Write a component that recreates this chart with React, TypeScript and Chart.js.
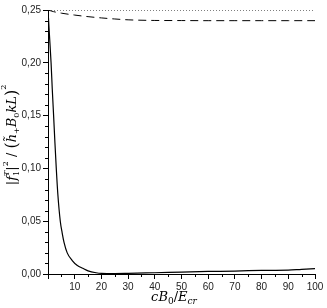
import React, { useEffect, useRef } from "react";
import { Chart, registerables } from "chart.js";

Chart.register(...registerables);

// Solid curve
const solidX = [0, 0.5, 1.15, 1.6, 2.1, 2.6, 3.1, 3.7, 4.6, 5.3, 6.0, 7.2, 9.0, 11, 13, 15, 18, 20, 25, 30, 40, 50, 60, 70, 75, 80, 90, 95, 100];
const solidY = [0.25, 0.228, 0.2, 0.175, 0.15, 0.124, 0.1, 0.075, 0.05, 0.039, 0.03, 0.02, 0.013, 0.008, 0.0054, 0.003, 0.0012, 0.0006, 0.0004, 0.0006, 0.0012, 0.0018, 0.0024, 0.0028, 0.0032, 0.0034, 0.0036, 0.0044, 0.005];

// Dashed curve
const dashX = [0, 2, 5, 10, 15, 20, 25, 30, 40, 50, 60, 70, 80, 90, 100];
const dashY = [0.25, 0.2485, 0.247, 0.2452, 0.2437, 0.2425, 0.2415, 0.2407, 0.2401, 0.24, 0.2399, 0.2399, 0.2399, 0.2399, 0.2399];

// Dotted reference line
const dotX = [0, 100];
const dotY = [0.25, 0.25];

const xTicks = [10, 20, 30, 40, 50, 60, 70, 80, 90, 100];
const yTicks = [0, 0.05, 0.1, 0.15, 0.2, 0.25];
const xMinor = [5, 15, 25, 35, 45, 55, 65, 75, 85, 95];
const yMinor = [0.01, 0.02, 0.03, 0.04, 0.06, 0.07, 0.08, 0.09, 0.11, 0.12, 0.13, 0.14, 0.16, 0.17, 0.18, 0.19, 0.21, 0.22, 0.23, 0.24];

type Seg = { t: string; size: number; dy: number; italic?: boolean; noAdv?: boolean };

const yTitle: Seg[] = [
  { t: "|", size: 13, dy: 0 },
  { t: "f", size: 13, dy: 0, italic: true },
  { t: "1", size: 8, dy: 3, noAdv: true },
  { t: "T", size: 8, dy: -7, italic: true },
  { t: "|", size: 13, dy: 0 },
  { t: "2", size: 8, dy: -8 },
  { t: " / ", size: 13, dy: 0 },
  { t: "(", size: 16, dy: 1 },
  { t: "h\u0303", size: 13, dy: 0, italic: true },
  { t: "+", size: 8, dy: 3 },
  { t: "B", size: 13, dy: 0, italic: true },
  { t: "0", size: 8, dy: 3 },
  { t: "kL", size: 13, dy: 0, italic: true },
  { t: ")", size: 16, dy: 1 },
  { t: "2", size: 8, dy: -10 },
];

const xTitle: Seg[] = [
  { t: "cB", size: 13, dy: 0, italic: true },
  { t: "0", size: 9, dy: 3 },
  { t: "/", size: 13, dy: 0 },
  { t: "E", size: 13, dy: 0, italic: true },
  { t: "cr", size: 9, dy: 3, italic: true },
];

const SERIF = '"DejaVu Serif", "Liberation Serif", serif';

function fontOf(s: Seg) {
  return `${s.italic ? "italic " : ""}${s.size}px ${SERIF}`;
}

function drawSegs(ctx: CanvasRenderingContext2D, segs: Seg[]) {
  let w = 0;
  let pend = 0;
  for (const s of segs) {
    ctx.font = fontOf(s);
    const m = ctx.measureText(s.t).width;
    if (s.noAdv) pend = Math.max(pend, m);
    else {
      w += Math.max(m, pend);
      pend = 0;
    }
  }
  let x = -w / 2;
  pend = 0;
  ctx.textBaseline = "alphabetic";
  ctx.textAlign = "left";
  for (const s of segs) {
    ctx.font = fontOf(s);
    const m = ctx.measureText(s.t).width;
    ctx.fillText(s.t, x, s.dy);
    if (s.noAdv) pend = Math.max(pend, m);
    else {
      x += Math.max(m, pend);
      pend = 0;
    }
  }
}

const extrasPlugin = {
  id: "extras",
  afterDraw(chart: any) {
    const ctx: CanvasRenderingContext2D = chart.ctx;
    const xs = chart.scales.x;
    const ys = chart.scales.y;
    const area = chart.chartArea;
    ctx.save();
    ctx.strokeStyle = "#000";
    ctx.lineWidth = 1;
    ctx.beginPath();
    for (const v of xMinor) {
      const px = Math.round(xs.getPixelForValue(v)) + 0.5;
      ctx.moveTo(px, area.bottom);
      ctx.lineTo(px, area.bottom + 3);
    }
    for (const v of yMinor) {
      const py = Math.round(ys.getPixelForValue(v)) + 0.5;
      ctx.moveTo(area.left, py);
      ctx.lineTo(area.left - 3, py);
    }
    ctx.stroke();

    ctx.fillStyle = "#000";
    // x title
    ctx.save();
    ctx.translate(174, 301);
    drawSegs(ctx, xTitle);
    ctx.restore();
    // y title
    ctx.save();
    ctx.translate(16, 135);
    ctx.rotate(-Math.PI / 2);
    drawSegs(ctx, yTitle);
    ctx.restore();
    ctx.restore();
  },
};

function pts(xs: number[], ys: number[]) {
  return xs.map((x, i) => ({ x, y: ys[i] }));
}

export default function App() {
  const ref = useRef<HTMLCanvasElement | null>(null);
  useEffect(() => {
    document.body.style.margin = "0";
    const canvas = ref.current;
    if (!canvas) return;
    const tickFont = { family: '"Liberation Sans", Arial, sans-serif', size: 10 };
    const chart = new Chart(canvas, {
      type: "line",
      data: {
        datasets: [
          {
            data: pts(solidX, solidY),
            borderColor: "#000",
            borderWidth: 1.2,
            pointRadius: 0,
            cubicInterpolationMode: "monotone",
            fill: false,
          },
          {
            data: pts(dashX, dashY),
            borderColor: "#000",
            borderWidth: 1,
            borderDash: [8, 5],
            pointRadius: 0,
            cubicInterpolationMode: "monotone",
            fill: false,
          },
          {
            data: pts(dotX, dotY),
            borderColor: "#000",
            borderWidth: 1,
            borderDash: [1, 2],
            pointRadius: 0,
            fill: false,
          },
        ],
      },
      options: {
        animation: false,
        responsive: false,
        maintainAspectRatio: false,
        layout: { padding: { top: 10, right: 12, left: 0, bottom: 0 } },
        plugins: { legend: { display: false }, tooltip: { enabled: false } },
        scales: {
          x: {
            type: "linear",
            min: 0,
            max: 100,
            afterBuildTicks: (s: any) => {
              s.ticks = [0, ...xTicks].map((v) => ({ value: v }));
            },
            afterFit: (s: any) => {
              s.height = 34;
            },
            ticks: {
              color: "#222",
              font: tickFont,
              padding: 2,
              maxRotation: 0,
              autoSkip: false,
              callback: (v: any) => (v === 0 ? "" : String(v)),
            },
            grid: { drawOnChartArea: false, drawTicks: true, tickLength: 5, color: "#000" },
            border: { display: true, color: "#000", width: 1 },
          },
          y: {
            type: "linear",
            min: 0,
            max: 0.25,
            afterBuildTicks: (s: any) => {
              s.ticks = yTicks.map((v) => ({ value: v }));
            },
            afterFit: (s: any) => {
              s.width = 48;
            },
            ticks: {
              color: "#222",
              font: tickFont,
              padding: 2,
              autoSkip: false,
              callback: (v: any) => Number(v).toFixed(2).replace(".", ","),
            },
            grid: { drawOnChartArea: false, drawTicks: true, tickLength: 5, color: "#000" },
            border: { display: true, color: "#000", width: 1 },
          },
        },
      },
      plugins: [extrasPlugin],
    } as any);
    return () => chart.destroy();
  }, []);
  return (
    <div style={{ position: "relative", width: 327, height: 308 }}>
      <canvas ref={ref} width={327} height={308} style={{ width: 327, height: 308, display: "block" }} />
    </div>
  );
}
